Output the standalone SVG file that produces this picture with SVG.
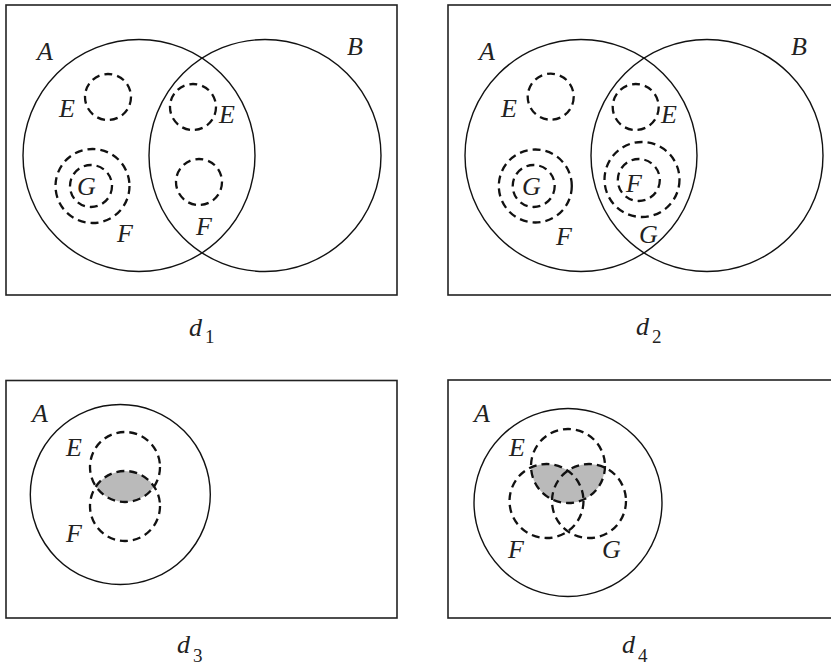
<svg xmlns="http://www.w3.org/2000/svg" width="831" height="666" viewBox="0 0 831 666">
<style>
.frame{fill:none;stroke:#222;stroke-width:1.6}
.set{fill:none;stroke:#111;stroke-width:1.4}
.sub{fill:none;stroke:#111;stroke-width:2.3;stroke-dasharray:8 5}
.lbl{font-family:"Liberation Serif","Times New Roman",serif;font-style:italic;font-size:26px;fill:#222}
.cap{font-family:"Liberation Serif","Times New Roman",serif;font-style:italic;font-size:26px;fill:#222}
.idx{font-family:"Liberation Serif","Times New Roman",serif;font-size:19px;fill:#222}
.shade{fill:#bababa;stroke:none}
</style>
<defs>
<clipPath id="clipE3"><circle cx="125" cy="467" r="35"/></clipPath>
<clipPath id="clipE4"><circle cx="568" cy="466" r="37"/></clipPath>
</defs>
<rect width="831" height="666" fill="#fff"/>

<g id="d1">
<rect class="frame" x="6" y="5" width="391" height="290"/>
<circle class="set" cx="139" cy="155.5" r="116"/>
<circle class="set" cx="265" cy="155.5" r="116"/>
<circle class="sub" cx="108" cy="97" r="23"/>
<circle class="sub" cx="193" cy="107" r="23"/>
<circle class="sub" cx="199" cy="182" r="23"/>
<circle class="sub" cx="92.5" cy="186" r="37"/>
<circle class="sub" cx="91" cy="186" r="21"/>
<text class="lbl" x="37" y="60">A</text>
<text class="lbl" x="347" y="55">B</text>
<text class="lbl" x="59" y="117">E</text>
<text class="lbl" x="219" y="123">E</text>
<text class="lbl" x="77" y="195">G</text>
<text class="lbl" x="117" y="242">F</text>
<text class="lbl" x="196" y="235">F</text>
<text class="cap" x="189" y="336">d</text><text class="idx" x="205" y="343">1</text>
</g>

<g id="d2">
<rect class="frame" x="448" y="5" width="400" height="290"/>
<circle class="set" cx="581" cy="155.5" r="116"/>
<circle class="set" cx="707" cy="155.5" r="116"/>
<circle class="sub" cx="550.7" cy="96.7" r="23"/>
<circle class="sub" cx="635.7" cy="107" r="23"/>
<circle class="sub" cx="535.3" cy="186" r="36.5"/>
<circle class="sub" cx="533.7" cy="186" r="21"/>
<circle class="sub" cx="642" cy="179.5" r="37.5"/>
<circle class="sub" cx="638.8" cy="180" r="21"/>
<text class="lbl" x="479" y="60">A</text>
<text class="lbl" x="791" y="55">B</text>
<text class="lbl" x="501" y="117">E</text>
<text class="lbl" x="661" y="123">E</text>
<text class="lbl" x="522" y="195">G</text>
<text class="lbl" x="556" y="245">F</text>
<text class="lbl" x="626" y="192">F</text>
<text class="lbl" x="639" y="243">G</text>
<text class="cap" x="636" y="335">d</text><text class="idx" x="652" y="343">2</text>
</g>

<g id="d3">
<rect class="frame" x="6" y="380.5" width="391" height="237.5"/>
<circle class="set" cx="120.3" cy="494.5" r="90"/>
<circle class="shade" cx="125" cy="506" r="35" clip-path="url(#clipE3)"/>
<circle class="sub" cx="125" cy="467" r="35"/>
<circle class="sub" cx="125" cy="506" r="35"/>
<text class="lbl" x="32" y="422">A</text>
<text class="lbl" x="66" y="456">E</text>
<text class="lbl" x="66" y="542">F</text>
<text class="cap" x="177" y="653">d</text><text class="idx" x="193" y="662">3</text>
</g>

<g id="d4">
<rect class="frame" x="448" y="380" width="400" height="238"/>
<circle class="set" cx="568" cy="502.5" r="94"/>
<g clip-path="url(#clipE4)">
<circle class="shade" cx="546.5" cy="501" r="37"/>
<circle class="shade" cx="589" cy="501" r="37"/>
</g>
<circle class="sub" cx="568" cy="466" r="37"/>
<circle class="sub" cx="546.5" cy="501" r="37"/>
<circle class="sub" cx="589" cy="501" r="37"/>
<text class="lbl" x="474" y="422">A</text>
<text class="lbl" x="509" y="456">E</text>
<text class="lbl" x="508" y="558">F</text>
<text class="lbl" x="602" y="558">G</text>
<text class="cap" x="622" y="653">d</text><text class="idx" x="638" y="662">4</text>
</g>
</svg>
